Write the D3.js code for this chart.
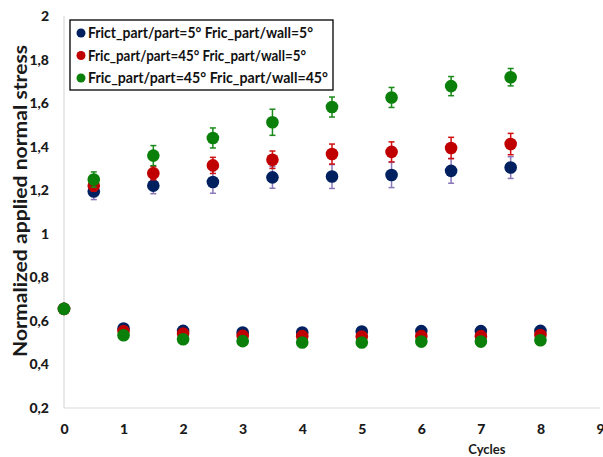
<!DOCTYPE html>
<html>
<head>
<meta charset="utf-8">
<script src="https://cdn.jsdelivr.net/npm/d3@7"></script>
<style>
  html, body { margin: 0; padding: 0; background: #fff; }
  svg { display: block; }
</style>
</head>
<body>
<svg id="chart" width="603" height="457"></svg>
<script>
// ---- data ----
const seriesNames = [
  "Frict_part/part=5°  Fric_part/wall=5°",
  "Fric_part/part=45° Fric_part/wall=5°",
  "Fric_part/part=45° Fric_part/wall=45°"
];
const cycles = [0, 0.5, 1, 1.5, 2, 2.5, 3, 3.5, 4, 4.5, 5, 5.5, 6, 6.5, 7, 7.5, 8];
const blueValues  = [0.655, 1.194, 0.565, 1.221, 0.554, 1.238, 0.547, 1.259, 0.547, 1.263, 0.551, 1.270, 0.553, 1.289, 0.553, 1.304, 0.554];
const redValues   = [0.655, 1.221, 0.553, 1.278, 0.542, 1.314, 0.531, 1.340, 0.530, 1.366, 0.528, 1.376, 0.530, 1.394, 0.530, 1.412, 0.535];
const greenValues = [0.655, 1.249, 0.534, 1.359, 0.516, 1.440, 0.507, 1.512, 0.501, 1.582, 0.501, 1.626, 0.505, 1.678, 0.505, 1.719, 0.511];
const blueErr  = [0, 0.037, 0, 0.037, 0, 0.052, 0, 0.050, 0, 0.055, 0, 0.058, 0, 0.057, 0, 0.050, 0];
const redErr   = [0, 0.025, 0, 0.030, 0, 0.037, 0, 0.040, 0, 0.046, 0, 0.046, 0, 0.049, 0, 0.049, 0];
const greenErr = [0, 0.035, 0, 0.046, 0, 0.046, 0, 0.060, 0, 0.046, 0, 0.046, 0, 0.044, 0, 0.040, 0];
const xTicks = [0, 1, 2, 3, 4, 5, 6, 7, 8, 9];
const yTicks = [0.2, 0.4, 0.6, 0.8, 1, 1.2, 1.4, 1.6, 1.8, 2];
const xTitle = "Cycles";
const yTitle = "Normalized applied normal stress";

const colors = ["#002060", "#c00000", "#0a800a"];
const errColors = ["#8a78b8", "#d01010", "#1a8a1a"];

// ---- chart ----
const svg = d3.select("#chart");
const x = d3.scaleLinear().domain([0, 9]).range([64, 600]);
const y = d3.scaleLinear().domain([0.2, 2]).range([408, 16]);
const font = "Lato, 'Open Sans', sans-serif";

// axes lines
svg.append("line").attr("x1", x(0)).attr("x2", x(9)).attr("y1", y(0.2)).attr("y2", y(0.2))
  .attr("stroke", "#d9d9d9").attr("stroke-width", 1.2);
svg.append("line").attr("x1", x(0)).attr("x2", x(0)).attr("y1", y(0.2)).attr("y2", y(2))
  .attr("stroke", "#d9d9d9").attr("stroke-width", 1.2);

// y tick labels
const yAxis = d3.axisLeft(y).tickValues(yTicks).tickSize(0).tickPadding(0)
  .tickFormat(d => String(d3.format("~g")(d)).replace(".", ","));
const gy = svg.append("g").attr("transform", `translate(${x(0) - 15},0)`).call(yAxis);
gy.select(".domain").remove();
gy.selectAll("text").attr("font-family", font).attr("font-weight", "900")
  .attr("font-size", 14).attr("fill", "#1a1a1a");

// x tick labels
const xAxis = d3.axisBottom(x).tickValues(xTicks).tickSize(0).tickPadding(0).tickFormat(d3.format("d"));
const gx = svg.append("g").attr("transform", `translate(0,${y(0.2) + 16})`).call(xAxis);
gx.select(".domain").remove();
gx.selectAll("text").attr("font-family", font).attr("font-weight", "900")
  .attr("font-size", 14).attr("fill", "#1a1a1a");

// axis titles
svg.append("text").attr("x", x(7.1)).attr("y", 454).attr("text-anchor", "middle")
  .attr("font-family", font).attr("font-weight", "bold").attr("font-size", 13)
  .attr("fill", "#1a1a1a").text(xTitle);
svg.append("text").attr("transform", `translate(27,201) rotate(-90)`)
  .attr("text-anchor", "middle").attr("font-family", font).attr("font-weight", "bold")
  .attr("font-size", 19).attr("fill", "#1a1a1a")
  .attr("textLength", 312).attr("lengthAdjust", "spacingAndGlyphs").text(yTitle);

// series
const allValues = [blueValues, redValues, greenValues];
const allErr = [blueErr, redErr, greenErr];
allValues.forEach((vals, si) => {
  const pts = cycles.map((c, i) => ({ c, v: vals[i], e: allErr[si][i] }));
  const g = svg.append("g");
  const eb = pts.filter(p => p.e > 0);
  g.selectAll(".eb").data(eb).enter().append("line")
    .attr("x1", p => x(p.c)).attr("x2", p => x(p.c))
    .attr("y1", p => y(p.v - p.e)).attr("y2", p => y(p.v + p.e))
    .attr("stroke", errColors[si]).attr("stroke-width", 1.5);
  [1, -1].forEach(s => {
    g.selectAll(".cap" + s).data(eb).enter().append("line")
      .attr("x1", p => x(p.c) - 3).attr("x2", p => x(p.c) + 3)
      .attr("y1", p => y(p.v + s * p.e)).attr("y2", p => y(p.v + s * p.e))
      .attr("stroke", errColors[si]).attr("stroke-width", 1.5);
  });
  g.selectAll("circle").data(pts).enter().append("circle")
    .attr("cx", p => x(p.c)).attr("cy", p => y(p.v)).attr("r", 6.3)
    .attr("fill", colors[si]);
});

// legend
const lg = svg.append("g");
lg.append("rect").attr("x", 70).attr("y", 20).attr("width", 263).attr("height", 70)
  .attr("fill", "#fff").attr("stroke", "#000").attr("stroke-width", 1.3);
seriesNames.forEach((name, i) => {
  const yy = 33 + i * 22.5;
  lg.append("circle").attr("cx", 81).attr("cy", yy).attr("r", 4.5).attr("fill", colors[i]);
  lg.append("text").attr("x", 88).attr("y", yy + 5).attr("font-family", font)
    .attr("font-weight", "bold").attr("font-size", 15).attr("fill", "#111")
    .attr("textLength", i === 0 ? 225 : (i === 1 ? 218 : 240)).attr("lengthAdjust", "spacingAndGlyphs")
    .text(name);
});
</script>
</body>
</html>
